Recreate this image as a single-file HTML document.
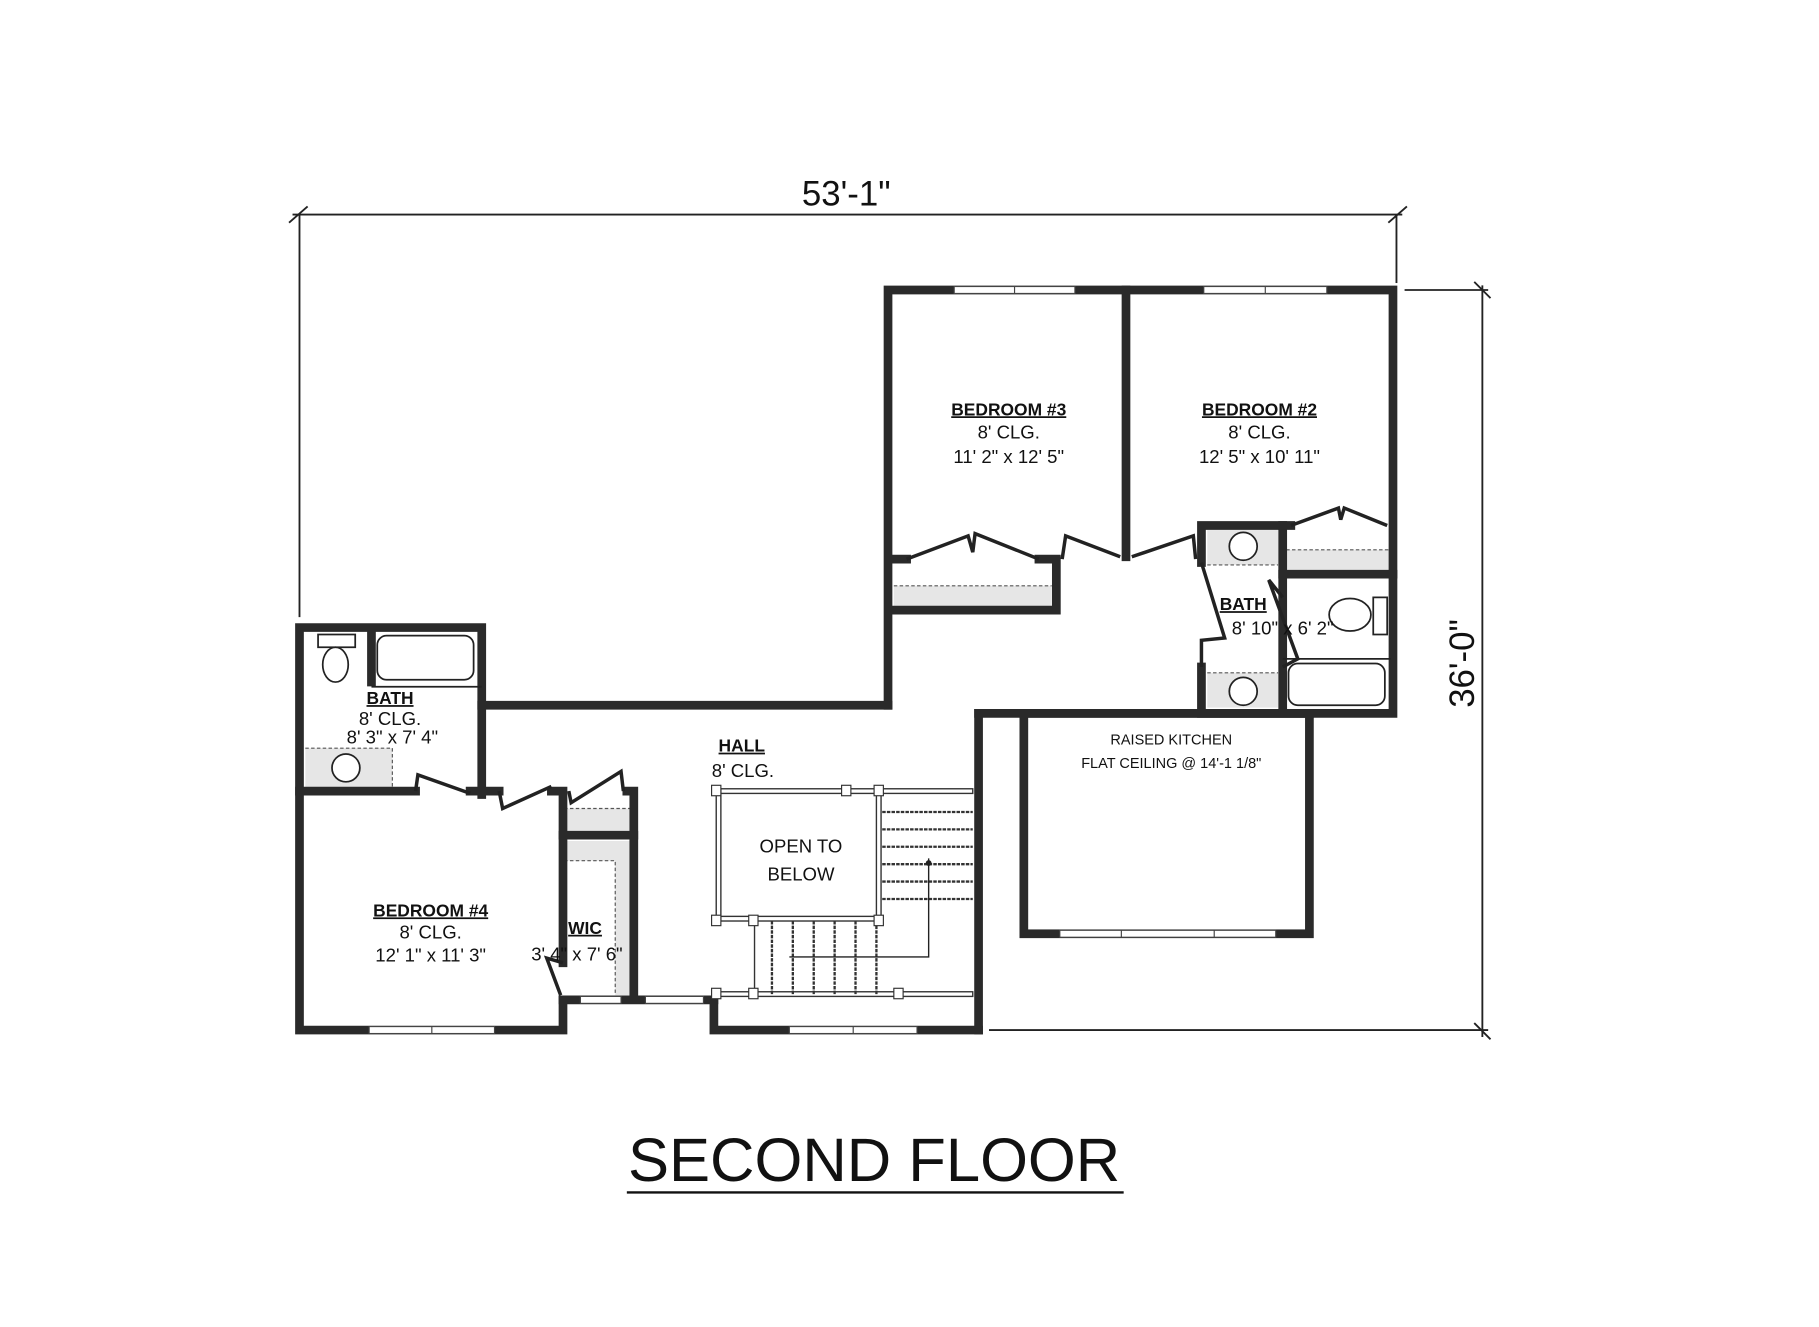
<!DOCTYPE html>
<html><head><meta charset="utf-8"><style>
html,body{margin:0;padding:0;background:#fff;}
svg{display:block;}
text{font-family:"Liberation Sans",sans-serif;fill:#111;}
</style></head><body>
<svg width="1819" height="1327" viewBox="0 0 1567 1144" preserveAspectRatio="none" xmlns="http://www.w3.org/2000/svg">
<rect width="1600" height="1200" fill="#fff"/>
<!-- dimensions -->
<g stroke="#222" stroke-width="1.6" fill="none">
<line x1="252" y1="185" x2="1208" y2="185"/>
<line x1="249" y1="192" x2="265" y2="178"/><line x1="1196" y1="192" x2="1212" y2="178"/>
<line x1="258" y1="185" x2="258" y2="532"/>
<line x1="1203" y1="185" x2="1203" y2="244"/>
<line x1="1277" y1="246" x2="1277" y2="894"/>
<line x1="1270" y1="243" x2="1284" y2="257"/><line x1="1270" y1="882" x2="1284" y2="896"/>
<line x1="1210" y1="250" x2="1282" y2="250"/>
<line x1="852" y1="888" x2="1282" y2="888"/>
</g>
<text x="729" y="177" font-size="30" text-anchor="middle">53'-1"</text>
<text transform="translate(1270,572) rotate(-90)" font-size="30" text-anchor="middle">36'-0"</text>
<text x="753" y="1018" font-size="53" text-anchor="middle">SECOND FLOOR</text>
<line x1="540" y1="1028" x2="968" y2="1028" stroke="#111" stroke-width="2"/>

<!-- grey fills -->
<g fill="#e6e6e6" stroke="none">
<rect x="770" y="505" width="136" height="20"/>
<rect x="1108" y="474" width="90" height="19"/>
<rect x="1040" y="457" width="61" height="30"/>
<rect x="1040" y="580" width="61" height="30"/>
<rect x="263" y="645" width="75" height="35"/>
<rect x="486" y="697" width="57" height="20"/>
<path d="M486,725 H543 V858 H530 V742 H486 Z"/>
</g>
<g stroke="#555" stroke-width="1" stroke-dasharray="3,2" fill="none">
<line x1="770" y1="505" x2="906" y2="505"/>
<line x1="1108" y1="474" x2="1198" y2="474"/>
<line x1="1040" y1="487" x2="1101" y2="487"/>
<line x1="1040" y1="580" x2="1101" y2="580"/>
<line x1="263" y1="645" x2="338" y2="645"/><line x1="338" y1="645" x2="338" y2="680"/>
<line x1="486" y1="697" x2="543" y2="697"/>
<path d="M486,742 H530 V858"/>
</g>

<!-- walls -->
<g stroke="#2a2a2a" stroke-width="7.5" fill="none" stroke-linecap="square">
<polyline points="765,608 765,250 1200,250 1200,615 1035,615"/>
<line x1="843" y1="615" x2="1128" y2="615"/>
<line x1="843" y1="615" x2="843" y2="888"/>
<rect x="882" y="615" width="246" height="190"/>
<line x1="415" y1="608" x2="765" y2="608"/>
<polyline points="415,685 415,541 258,541 258,888 485,888 485,862"/>
<line x1="485" y1="862" x2="615" y2="862"/>
<polyline points="615,862 615,888 843,888"/>
<line x1="970" y1="250" x2="970" y2="480"/>
<polyline points="768,482 781,482"/><polyline points="895,482 910,482 910,526 768,526"/>
<polyline points="1035,485 1035,453 1105,453 1105,610"/>
<line x1="1035" y1="575" x2="1035" y2="612"/>
<line x1="1105" y1="495" x2="1200" y2="495"/>
<line x1="1105" y1="453" x2="1112" y2="453"/>
<line x1="258" y1="682" x2="358" y2="682"/>
<line x1="405" y1="682" x2="430" y2="682"/>
<polyline points="475,682 485,682 485,830"/>
<polyline points="540,682 546,682 546,860"/>
<line x1="485" y1="720" x2="546" y2="720"/>
<line x1="320" y1="545" x2="320" y2="588"/>
</g>
<!-- windows -->
<g fill="#fff" stroke="#444" stroke-width="1">
<rect x="822" y="247" width="104" height="6"/><rect x="1037" y="247" width="106" height="6"/>
<rect x="318" y="885" width="108" height="6"/>
<rect x="680" y="885" width="110" height="6"/>
<rect x="913" y="802" width="186" height="6"/>
<rect x="500" y="859" width="35" height="6"/><rect x="556" y="859" width="50" height="6"/>
</g>
<g stroke="#444" stroke-width="1">
<line x1="874" y1="247" x2="874" y2="253"/><line x1="1090" y1="247" x2="1090" y2="253"/>
<line x1="372" y1="885" x2="372" y2="891"/><line x1="735" y1="885" x2="735" y2="891"/>
<line x1="966" y1="802" x2="966" y2="808"/><line x1="1046" y1="802" x2="1046" y2="808"/>
</g>
<!-- doors -->
<g stroke="#222" stroke-width="3" fill="none">
<polyline points="781,482 834,462 838,476 840,460 895,482"/>
<polyline points="915,482 918,462 965,480"/>
<polyline points="975,480 1028,462 1030,482"/>
<polyline points="1112,453 1153,438 1155,448 1158,438 1195,453"/>
<polyline points="1035,485 1055,550 1035,552 1035,575"/>
<polyline points="1105,515 1093,500 1118,568 1105,575"/>
<polyline points="358,682 360,668 405,684"/>
<polyline points="430,682 433,697 475,678"/>
<polyline points="490,682 492,692 535,665 537,682"/>
<polyline points="485,830 471,826 483,858"/>
</g>
<!-- fixtures -->
<g stroke="#222" stroke-width="1.5" fill="#fff">
<rect x="325" y="548" width="83" height="38" rx="8"/>
<rect x="274" y="547" width="32" height="11"/>
<ellipse cx="289" cy="573" rx="11" ry="15"/>
<circle cx="298" cy="662" r="12"/>
<circle cx="1071" cy="471" r="12"/>
<circle cx="1071" cy="596" r="12"/>
<ellipse cx="1163" cy="530" rx="18" ry="14"/>
<rect x="1183" y="515" width="12" height="32"/>
<rect x="1110" y="572" width="83" height="36" rx="8"/>
<line x1="1105" y1="568" x2="1198" y2="568"/>
<line x1="320" y1="592" x2="415" y2="592"/>
</g>
<!-- stairs -->
<g stroke="#333" stroke-width="1.2" fill="none">
<rect x="617" y="680" width="221" height="4"/>
<rect x="617" y="680" width="4" height="114"/>
<rect x="755" y="680" width="4" height="114"/>
<rect x="617" y="790" width="142" height="4"/>
<rect x="617" y="855" width="221" height="4"/>
<line x1="650" y1="794" x2="650" y2="857"/>
</g>
<g stroke="#333" stroke-width="2" stroke-dasharray="3,1">
<line x1="760" y1="700" x2="838" y2="700"/><line x1="760" y1="715" x2="838" y2="715"/>
<line x1="760" y1="730" x2="838" y2="730"/><line x1="760" y1="745" x2="838" y2="745"/>
<line x1="760" y1="760" x2="838" y2="760"/><line x1="760" y1="775" x2="838" y2="775"/>
<line x1="665" y1="794" x2="665" y2="857"/><line x1="683" y1="794" x2="683" y2="857"/>
<line x1="701" y1="794" x2="701" y2="857"/><line x1="719" y1="794" x2="719" y2="857"/>
<line x1="737" y1="794" x2="737" y2="857"/><line x1="755" y1="794" x2="755" y2="857"/>
</g>
<polyline points="800,740 800,825 680,825" stroke="#222" stroke-width="1.2" fill="none"/>
<circle cx="800" cy="744" r="2.5" fill="#222"/>
<g fill="#fff" stroke="#333" stroke-width="1">
<rect x="613" y="677" width="8" height="9"/><rect x="725" y="677" width="8" height="9"/><rect x="753" y="677" width="8" height="9"/>
<rect x="613" y="789" width="8" height="9"/><rect x="645" y="789" width="8" height="9"/><rect x="753" y="789" width="8" height="9"/>
<rect x="613" y="852" width="8" height="9"/><rect x="645" y="852" width="8" height="9"/><rect x="770" y="852" width="8" height="9"/>
</g>

<!-- labels -->
<g font-size="15" text-anchor="middle">
<text x="869" y="358" font-weight="bold" text-decoration="underline">BEDROOM #3</text>
<text x="869" y="378" font-size="16">8' CLG.</text>
<text x="869" y="399" font-size="16">11' 2" x 12' 5"</text>
<text x="1085" y="358" font-weight="bold" text-decoration="underline">BEDROOM #2</text>
<text x="1085" y="378" font-size="16">8' CLG.</text>
<text x="1085" y="399" font-size="16">12' 5" x 10' 11"</text>
<text x="1071" y="526" font-weight="bold" text-decoration="underline">BATH</text>
<text x="1105" y="547" font-size="16">8' 10" x 6' 2"</text>
<text x="336" y="607" font-weight="bold" text-decoration="underline">BATH</text>
<text x="336" y="625" font-size="16">8' CLG.</text>
<text x="338" y="641" font-size="16">8' 3" x 7' 4"</text>
<text x="639" y="648" font-weight="bold" text-decoration="underline">HALL</text>
<text x="640" y="670" font-size="16">8' CLG.</text>
<text x="690" y="735" font-size="16">OPEN TO</text>
<text x="690" y="759" font-size="16">BELOW</text>
<text x="371" y="790" font-weight="bold" text-decoration="underline">BEDROOM #4</text>
<text x="371" y="809" font-size="16">8' CLG.</text>
<text x="371" y="829" font-size="16">12' 1" x 11' 3"</text>
<text x="504" y="805" font-weight="bold" text-decoration="underline">WIC</text>
<text x="497" y="828" font-size="16">3' 4" x 7' 6"</text>
<text x="1009" y="642" font-size="12.5">RAISED KITCHEN</text>
<text x="1009" y="662" font-size="12.5">FLAT CEILING @ 14'-1 1/8"</text>
</g>
</svg>
</body></html>
